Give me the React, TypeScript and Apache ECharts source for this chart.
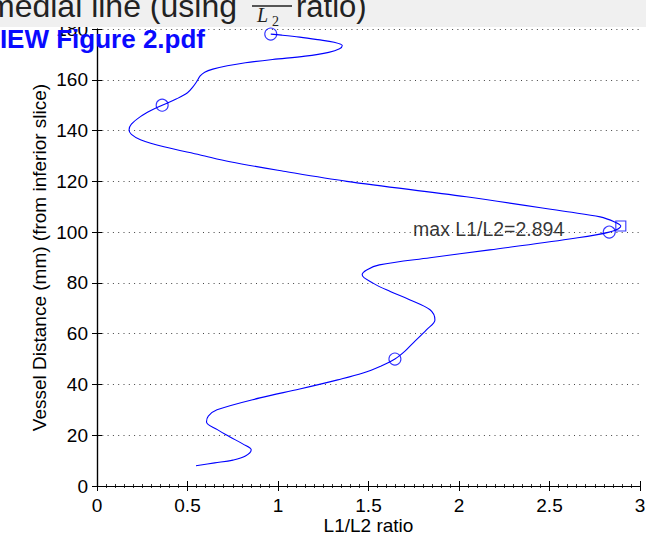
import React, { useEffect, useRef } from "react";
import * as echarts from "echarts";

// Vessel distance (mm) along the curve, and the L1/L2 ratio at each
const distance = [
  8.0, 9.1, 10.2, 11.8, 14.3, 16.6, 19.3, 22.2, 25.2, 27.5, 30.0, 34.7, 38.2, 41.8, 44.5, 47.3,
  50.0, 53.0, 56.3, 61.5, 65.4, 69.4, 73.3, 76.6, 79.9, 83.2, 85.1, 87.1, 89.9, 93.0, 97.3,
  100.0, 102.4, 104.0, 106.0, 108.0, 113.9, 120.0, 124.0, 127.7, 130.4, 133.6, 136.4, 138.5,
  140.2, 142.5, 145.5, 148.0, 150.0, 152.5, 154.9, 157.2, 159.2, 161.5, 163.0, 164.2, 165.5,
  166.7, 168.0, 169.3, 170.8, 172.2, 173.5, 174.8, 175.8, 176.8, 177.6, 178.0,
];
const ratio = [
  0.547, 0.65, 0.751, 0.82, 0.852, 0.805, 0.735, 0.665, 0.605, 0.615, 0.663, 0.9, 1.12, 1.33, 1.47, 1.57,
  1.646, 1.7, 1.746, 1.82, 1.867, 1.84, 1.73, 1.62, 1.525, 1.465, 1.49, 1.56, 1.84, 2.17, 2.61,
  2.83, 2.894, 2.86, 2.78, 2.6, 2.04, 1.38, 1.03, 0.735, 0.57, 0.37, 0.24, 0.19,
  0.177, 0.19, 0.24, 0.3, 0.36, 0.44, 0.5, 0.53, 0.55, 0.57, 0.595, 0.64, 0.72,
  0.82, 0.97, 1.15, 1.28, 1.34, 1.355, 1.31, 1.22, 1.12, 1.02, 0.96,
];

// circle markers
const markerDistance = [50, 100, 150, 178];
const markerRatio = [1.646, 2.83, 0.36, 0.96];

// maximum
const maxDistance = 102.4;
const maxRatio = 2.894;

const xTicks = { min: 0, max: 3, interval: 0.5 };
const yTicks = { min: 0, max: 180, interval: 20 };

const FONT = "Liberation Sans, Arial, Helvetica, sans-serif";

export default function App() {
  const ref = useRef<HTMLDivElement>(null);
  useEffect(() => {
    document.body.style.margin = "0";
    if (!ref.current) return;
    const chart = echarts.init(ref.current, undefined, { renderer: "svg" });
    const curve = distance.map((d, i) => [ratio[i], d]);
    const markers = markerDistance.map((d, i) => [markerRatio[i], d]);
    const axisLine = { show: true, lineStyle: { color: "#000", width: 1.2 } };
    const tickStyle = { show: true, inside: true, length: 5, lineStyle: { color: "#000", width: 1 } };
    chart.setOption({
      animation: false,
      backgroundColor: "#fff",
      textStyle: { fontFamily: FONT },
      grid: { left: 97, right: 6, top: 29, bottom: 52, containLabel: false, outerBoundsMode: "none" },
      xAxis: [
        {
          type: "value",
          position: "bottom",
          ...xTicks,
          axisLine,
          axisTick: tickStyle,
          minorTick: { show: true, splitNumber: 10, length: 2, lineStyle: { color: "#000", width: 0.8 } },
          splitLine: { show: false },
          axisLabel: { color: "#000", fontSize: 19, margin: 10, fontFamily: FONT },
          name: "L1/L2 ratio",
          nameLocation: "middle",
          nameGap: 30,
          nameMoveOverlap: false,
          nameTextStyle: { color: "#000", fontSize: 19, fontFamily: FONT },
        },
        {
          type: "value",
          position: "top",
          ...xTicks,
          axisLine,
          axisTick: tickStyle,
          minorTick: { show: true, splitNumber: 10, length: 2, lineStyle: { color: "#000", width: 0.8 } },
          splitLine: { show: false },
          axisLabel: { show: false },
        },
      ],
      yAxis: [
        {
          type: "value",
          position: "left",
          ...yTicks,
          axisLine,
          axisTick: tickStyle,
          splitLine: { show: true, lineStyle: { color: "#444", width: 1, type: [1, 4.3] } },
          axisLabel: { color: "#000", fontSize: 19, margin: 9, fontFamily: FONT },
          name: "Vessel Distance (mm) (from inferior slice)",
          nameLocation: "middle",
          nameGap: 48,
          nameMoveOverlap: false,
          nameRotate: 90,
          nameTextStyle: { color: "#000", fontSize: 19, fontFamily: FONT },
        },
        {
          type: "value",
          position: "right",
          ...yTicks,
          axisLine,
          axisTick: tickStyle,
          splitLine: { show: false },
          axisLabel: { show: false },
        },
      ],
      series: [
        {
          type: "line",
          data: curve,
          smooth: 0.35,
          showSymbol: false,
          lineStyle: { color: "#0000ff", width: 1.1 },
          z: 3,
        },
        {
          type: "scatter",
          data: markers,
          symbol: "circle",
          symbolSize: 12,
          itemStyle: { color: "none", borderColor: "#0000ff", borderWidth: 1.1 },
          z: 4,
        },
        {
          type: "scatter",
          data: [[maxRatio, maxDistance]],
          symbol: "rect",
          symbolSize: 10,
          itemStyle: { color: "none", borderColor: "#0000ff", borderWidth: 1.1 },
          label: {
            show: true,
            position: "left",
            distance: 49,
            offset: [0, 3],
            formatter: `max L1/L2=${maxRatio}`,
            color: "#000",
            fontSize: 19.5,
            fontFamily: FONT,
          },
          z: 4,
        },
      ],
      graphic: [
        {
          type: "rect",
          shape: { x: 0, y: 0, width: 646, height: 27 },
          style: { fill: "#f0f0f0" },
          z: 100,
        },
        {
          type: "text",
          x: 237,
          y: 6,
          style: {
            text: "medial line (using",
            fontSize: 32,
            fontFamily: FONT,
            fill: "#222",
            align: "right",
            verticalAlign: "middle",
          },
          z: 101,
        },
        {
          type: "line",
          shape: { x1: 252, y1: 6, x2: 292, y2: 6 },
          style: { stroke: "#222", lineWidth: 1.5 },
          z: 101,
        },
        {
          type: "text",
          x: 257,
          y: 15,
          style: {
            text: "L",
            fontSize: 20,
            fontStyle: "italic",
            fontFamily: "Liberation Serif, DejaVu Serif, serif",
            fill: "#222",
            align: "left",
            verticalAlign: "middle",
          },
          z: 101,
        },
        {
          type: "text",
          x: 272,
          y: 21,
          style: {
            text: "2",
            fontSize: 14,
            fontFamily: "Liberation Serif, DejaVu Serif, serif",
            fill: "#222",
            align: "left",
            verticalAlign: "middle",
          },
          z: 101,
        },
        {
          type: "text",
          x: 296,
          y: 6,
          style: {
            text: "ratio)",
            fontSize: 31,
            fontFamily: FONT,
            fill: "#222",
            align: "left",
            verticalAlign: "middle",
          },
          z: 101,
        },
        {
          type: "text",
          x: 205,
          y: 39,
          style: {
            text: "IEW Figure 2.pdf",
            fontSize: 26,
            fontWeight: "bold",
            fontFamily: FONT,
            fill: "#0a0aff",
            align: "right",
            verticalAlign: "middle",
          },
          z: 102,
        },
      ],
    });
    return () => chart.dispose();
  }, []);
  return <div ref={ref} style={{ width: 646, height: 538 }} />;
}
